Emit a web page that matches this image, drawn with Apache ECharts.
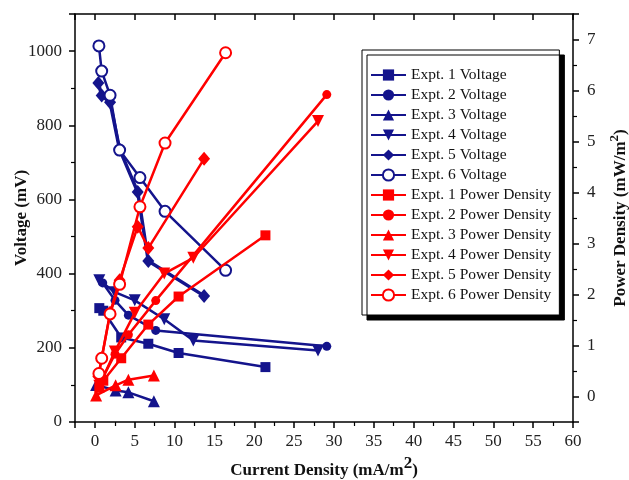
<!DOCTYPE html>
<html>
<head>
<meta charset="utf-8">
<script src="https://cdn.jsdelivr.net/npm/echarts@6/dist/echarts.min.js"></script>
<style>html,body{margin:0;padding:0;background:#fff}#c{width:629px;height:480px}</style>
</head>
<body>
<div id="c"></div>
<script>
// Current density (mA/m^2), voltage (mV), power density (mW/m^2)
const expt1X = [0.55, 1.05, 3.3, 6.7, 10.5, 21.4];
const expt1V = [307, 300, 228, 211, 186, 148];
const expt1P = [0.17, 0.31, 0.75, 1.41, 1.96, 3.16];

const expt2X = [0.98, 2.52, 4.2, 7.63, 29.1];
const expt2V = [375, 328, 288, 247, 204];
const expt2P = [0.37, 0.83, 1.21, 1.88, 5.92];

const expt3X = [0.15, 2.6, 4.2, 7.4];
const expt3V = [100, 85, 80, 56];
const expt3P = [0.02, 0.22, 0.33, 0.41];

const expt4X = [0.55, 2.5, 5.0, 8.7, 12.35, 28.0];
const expt4V = [382, 350, 328, 277, 220, 193];
const expt4P = [0.21, 0.88, 1.64, 2.41, 2.72, 5.40];

const expt5X = [0.43, 0.85, 1.9, 3.1, 5.37, 6.7, 13.7];
const expt5V = [914, 880, 862, 735, 620, 434, 340];
const expt5P = [0.39, 0.75, 1.64, 2.28, 3.33, 2.91, 4.66];

const expt6X = [0.5, 0.85, 1.9, 3.1, 5.65, 8.8, 16.4];
const expt6V = [1014, 946, 881, 733, 659, 568, 409];
const expt6P = [0.45, 0.75, 1.62, 2.2, 3.72, 4.97, 6.74];

const seriesNames = ['Expt. 1', 'Expt. 2', 'Expt. 3', 'Expt. 4', 'Expt. 5', 'Expt. 6'];
const xTickLabels = ['0','5','10','15','20','25','30','35','40','45','50','55','60'];
const vTickLabels = ['0','200','400','600','800','1000'];
const pTickLabels = ['0','1','2','3','4','5','6','7'];

const BLUE = '#14148c';
const RED = '#ff0000';
const FONT = "'Liberation Serif', 'Times New Roman', serif";

const exps = [
  {x: expt1X, v: expt1V, p: expt1P, sym: 'rect', size: 10},
  {x: expt2X, v: expt2V, p: expt2P, sym: 'circle', size: 9},
  {x: expt3X, v: expt3V, p: expt3P, sym: 'triangle', size: 12},
  {x: expt4X, v: expt4V, p: expt4P, sym: 'path://M0,0 L10,0 L5,9 Z', size: 12},
  {x: expt5X, v: expt5V, p: expt5P, sym: 'diamond', size: [12, 14]},
  {x: expt6X, v: expt6V, p: expt6P, sym: 'emptyCircle', size: 11}
];

const zip = (a, b) => a.map((x, i) => [x, b[i]]);
const series = [];
exps.forEach((e, i) => {
  series.push({
    name: seriesNames[i] + ' Voltage', type: 'line', xAxisIndex: 0, yAxisIndex: 0,
    data: zip(e.x, e.v), symbol: e.sym, symbolSize: e.size,
    lineStyle: {color: BLUE, width: i === 4 ? 3.5 : 2.5},
    itemStyle: {color: BLUE, borderColor: BLUE, borderWidth: e.sym === 'emptyCircle' ? 1.2 : 0},
    z: 2, animation: false
  });
});
exps.forEach((e, i) => {
  series.push({
    name: seriesNames[i] + ' Power Density', type: 'line', xAxisIndex: 0, yAxisIndex: 1,
    data: zip(e.x, e.p), symbol: e.sym, symbolSize: e.size,
    lineStyle: {color: RED, width: 2.5},
    itemStyle: {color: RED, borderColor: RED, borderWidth: e.sym === 'emptyCircle' ? 1.2 : 0},
    z: 3, animation: false
  });
});

const axisLine = {show: true, onZero: false, lineStyle: {color: '#000', width: 1.5}};
const lbl = {fontFamily: FONT, fontSize: 17, color: '#222'};

const option = {
  backgroundColor: '#fff',
  animation: false,
  grid: {left: 75, right: 56, top: 14, bottom: 58, containLabel: false, outerBoundsMode: 'none'},
  legend: {
    orient: 'vertical', left: 362, top: 50,
    padding: [17, 8, 12, 8],
    itemWidth: 35, itemHeight: 14, itemGap: 4,
    backgroundColor: '#fff', borderColor: '#000', borderWidth: 1,
    shadowColor: '#000', shadowBlur: 0, shadowOffsetX: 5, shadowOffsetY: 5,
    textStyle: {fontFamily: FONT, fontSize: 15.5, color: '#111', lineHeight: 14, padding: [0, 0, 0, 0]},
    data: series.map(s => s.name)
  },
  xAxis: [
    {
      type: 'value', position: 'bottom', min: -2.5, max: 60, splitNumber: 12,
      axisLine: axisLine,
      axisTick: {show: true, inside: false, length: 6, lineStyle: {color: '#000', width: 1.5}},
      minorTick: {show: true, splitNumber: 2, length: 4, lineStyle: {color: '#000', width: 1.2}},
      splitLine: {show: false}, minorSplitLine: {show: false},
      axisLabel: Object.assign({margin: 11, formatter: v => xTickLabels.includes(String(v)) ? String(v) : ''}, lbl),
      name: '{t|Current Density (mA/m}{s|2}{t|)}',
      nameLocation: 'middle', nameGap: 33, nameMoveOverlap: false,
      nameTextStyle: {rich: {
        t: {fontFamily: FONT, fontSize: 17, fontWeight: 'bold', color: '#111'},
        s: {fontFamily: FONT, fontSize: 17, fontWeight: 'bold', color: '#111', padding: [0, 0, 14, 0]}
      }}
    },
    {
      type: 'value', position: 'top', min: -2.5, max: 60, splitNumber: 12,
      axisLine: axisLine,
      axisTick: {show: true, inside: true, length: 6, lineStyle: {color: '#000', width: 1.5}},
      axisLabel: {show: false}, splitLine: {show: false}
    }
  ],
  yAxis: [
    {
      type: 'value', position: 'left', min: 0, max: 1100, splitNumber: 5,
      axisLine: axisLine,
      axisTick: {show: true, inside: false, length: 6, lineStyle: {color: '#000', width: 1.5}},
      minorTick: {show: true, splitNumber: 2, length: 4, lineStyle: {color: '#000', width: 1.2}},
      splitLine: {show: false}, minorSplitLine: {show: false},
      axisLabel: Object.assign({margin: 13, formatter: v => vTickLabels.includes(String(v)) ? String(v) : ''}, lbl),
      name: 'Voltage (mV)', nameLocation: 'middle', nameGap: 45, nameRotate: 90, nameMoveOverlap: false,
      nameTextStyle: {fontFamily: FONT, fontSize: 17, fontWeight: 'bold', color: '#111'}
    },
    {
      type: 'value', position: 'right', min: -0.5, max: 7.5, splitNumber: 8,
      axisLine: axisLine,
      axisTick: {show: true, inside: false, length: 6, lineStyle: {color: '#000', width: 1.5}},
      minorTick: {show: true, splitNumber: 2, length: 4, lineStyle: {color: '#000', width: 1.2}},
      splitLine: {show: false}, minorSplitLine: {show: false},
      axisLabel: Object.assign({margin: 14, formatter: v => pTickLabels.includes(String(v)) ? String(v) : ''}, lbl),
      name: '{t|Power Density (mW/m}{s|2}{t|)}', nameLocation: 'middle', nameGap: 35, nameRotate: 90, nameMoveOverlap: false,
      nameTextStyle: {rich: {
        t: {fontFamily: FONT, fontSize: 17, fontWeight: 'bold', color: '#111'},
        s: {fontFamily: FONT, fontSize: 13, fontWeight: 'bold', color: '#111', padding: [0, 0, 12, 0]}
      }}
    }
  ],
  series: series
};

const chart = echarts.init(document.getElementById('c'), null, {renderer: 'canvas'});
chart.setOption(option);
</script>
</body>
</html>
